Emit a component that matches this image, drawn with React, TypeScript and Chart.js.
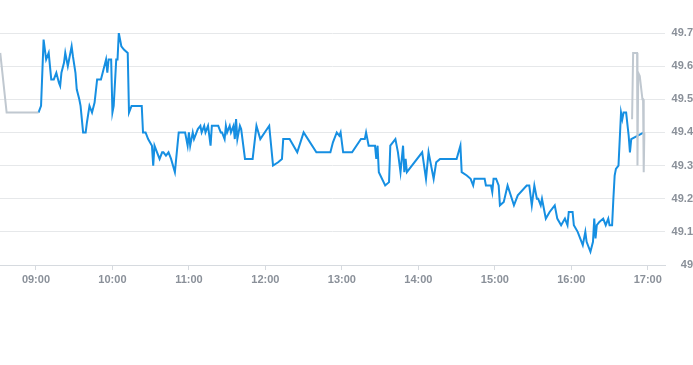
import React, { useEffect, useRef } from "react";
import { Chart, registerables } from "chart.js";

Chart.register(...registerables);

// Axis range and tick labels
const X_MIN = "08:31:48";
const X_MAX = "17:13:30";
const X_TICKS = ["09:00", "10:00", "11:00", "12:00", "13:00", "14:00", "15:00", "16:00", "17:00"];
const Y_TICKS = [49, 49.1, 49.2, 49.3, 49.4, 49.5, 49.6, 49.7];

// Main session (blue)
const SESSION_TIMES = [
  "09:02", "09:04", "09:06", "09:08", "09:09", "09:10", "09:12", "09:14", "09:16", "09:18",
  "09:19", "09:20", "09:22", "09:23", "09:25", "09:26", "09:28", "09:29", "09:31", "09:32",
  "09:34", "09:35", "09:37", "09:39", "09:40", "09:42", "09:44", "09:46", "09:48", "09:51",
  "09:53", "09:55", "09:56", "09:57", "09:59", "10:00", "10:01", "10:03", "10:04", "10:05",
  "10:07", "10:09", "10:12", "10:13", "10:15", "10:23", "10:24", "10:26", "10:28", "10:31",
  "10:32", "10:33", "10:35", "10:37", "10:39", "10:40", "10:42", "10:44", "10:46", "10:49",
  "10:52", "10:57", "10:59", "11:00", "11:01", "11:03", "11:04", "11:06", "11:07", "11:09",
  "11:10", "11:12", "11:13", "11:15", "11:17", "11:18", "11:23", "11:25", "11:26", "11:28",
  "11:29", "11:30", "11:32", "11:33", "11:35", "11:36", "11:37", "11:38", "11:40", "11:41",
  "11:44", "11:50", "11:53", "11:56", "12:03", "12:06", "12:10", "12:13", "12:14", "12:19",
  "12:25", "12:30", "12:40", "12:51", "12:53", "12:56", "12:58", "12:59", "13:01", "13:08",
  "13:15", "13:18", "13:19", "13:21", "13:26", "13:27", "13:28", "13:29", "13:34", "13:37",
  "13:38", "13:42", "13:44", "13:46", "13:48", "13:49", "13:50", "13:51", "14:03", "14:06",
  "14:08", "14:12", "14:14", "14:17", "14:30", "14:33", "14:34", "14:38", "14:41", "14:43",
  "14:44", "14:52", "14:53", "14:57", "14:58", "14:59", "15:01", "15:03", "15:04", "15:07",
  "15:10", "15:15", "15:18", "15:25", "15:27", "15:29", "15:31", "15:33", "15:34", "15:36",
  "15:37", "15:40", "15:43", "15:47", "15:49", "15:52", "15:55", "15:57", "15:58", "16:01",
  "16:02", "16:05", "16:09", "16:11", "16:12", "16:15", "16:17", "16:18", "16:19", "16:20",
  "16:22", "16:25", "16:27", "16:29", "16:30", "16:32", "16:33", "16:34", "16:35", "16:37",
  "16:39", "16:40", "16:41", "16:43", "16:45", "16:46", "16:47", "16:57",
];
const SESSION_VALUES = [
  49.46, 49.48, 49.68, 49.62, 49.63, 49.64, 49.56, 49.56, 49.58, 49.55,
  49.54, 49.58, 49.61, 49.64, 49.60, 49.62, 49.66, 49.63, 49.58, 49.53,
  49.50, 49.48, 49.40, 49.40, 49.43, 49.48, 49.46, 49.49, 49.56, 49.56,
  49.59, 49.62, 49.58, 49.62, 49.62, 49.46, 49.48, 49.62, 49.62, 49.70,
  49.66, 49.65, 49.64, 49.46, 49.48, 49.48, 49.40, 49.40, 49.38, 49.36,
  49.30, 49.36, 49.34, 49.32, 49.34, 49.34, 49.33, 49.34, 49.32, 49.28,
  49.40, 49.40, 49.36, 49.40, 49.36, 49.40, 49.38, 49.40, 49.41, 49.42,
  49.40, 49.42, 49.40, 49.42, 49.36, 49.42, 49.42, 49.40, 49.40, 49.38,
  49.42, 49.40, 49.42, 49.40, 49.42, 49.38, 49.44, 49.38, 49.42, 49.41,
  49.32, 49.32, 49.42, 49.38, 49.42, 49.30, 49.31, 49.32, 49.38, 49.38,
  49.34, 49.40, 49.34, 49.34, 49.37, 49.40, 49.39, 49.40, 49.34, 49.34,
  49.38, 49.38, 49.40, 49.36, 49.36, 49.32, 49.36, 49.28, 49.24, 49.25,
  49.36, 49.38, 49.34, 49.28, 49.36, 49.28, 49.32, 49.28, 49.34, 49.26,
  49.34, 49.26, 49.31, 49.32, 49.32, 49.36, 49.28, 49.27, 49.26, 49.24,
  49.26, 49.26, 49.24, 49.24, 49.22, 49.26, 49.26, 49.24, 49.18, 49.19,
  49.24, 49.18, 49.21, 49.24, 49.24, 49.18, 49.24, 49.20, 49.20, 49.18,
  49.20, 49.14, 49.16, 49.18, 49.14, 49.12, 49.14, 49.12, 49.16, 49.16,
  49.12, 49.10, 49.06, 49.10, 49.07, 49.04, 49.07, 49.14, 49.08, 49.12,
  49.13, 49.14, 49.12, 49.14, 49.12, 49.12, 49.20, 49.27, 49.29, 49.30,
  49.46, 49.44, 49.46, 49.46, 49.39, 49.34, 49.38, 49.40,
];

// Pre-market (grey)
const PRE_TIMES = ["08:32", "08:37", "09:02"];
const PRE_VALUES = [49.64, 49.46, 49.46];

// After-market (grey)
const POST_TIMES = [
  "16:47:40", "16:48:30", "16:51:36", "16:51:54", "16:52:30",
  "16:53:42", "16:55:48", "16:56:18", "16:56:48", "16:57:18",
];
const POST_VALUES = [49.44, 49.64, 49.64, 49.30, 49.58, 49.57, 49.50, 49.50, 49.28, 49.40];

const BLUE = "rgb(22, 143, 226)";
const GREY = "#c0c8d0";
const TEXT = "#8a9099";
const FONT = "'Liberation Sans', Arial, sans-serif";

const toMin = (s: string) => {
  const [h, m, sec] = s.split(":").map(Number);
  return h * 60 + m + (sec || 0) / 60;
};
const fmt = (v: number) => {
  const h = Math.floor(v / 60 + 1e-9);
  const m = Math.round(v - h * 60);
  return String(h).padStart(2, "0") + ":" + String(m).padStart(2, "0");
};
const points = (times: string[], values: number[]) =>
  times.map((t, i) => ({ x: toMin(t), y: values[i] }));

export default function App() {
  const ref = useRef<HTMLCanvasElement | null>(null);

  useEffect(() => {
    if (!ref.current) return;
    const chart = new Chart(ref.current, {
      type: "line",
      data: {
        datasets: [
          {
            data: points(POST_TIMES, POST_VALUES),
            borderColor: GREY,
            borderWidth: 2,
            pointRadius: 0,
            tension: 0,
          },
          {
            data: points(PRE_TIMES, PRE_VALUES),
            borderColor: GREY,
            borderWidth: 2,
            pointRadius: 0,
            tension: 0,
          },
          {
            data: points(SESSION_TIMES, SESSION_VALUES),
            borderColor: BLUE,
            borderWidth: 2,
            pointRadius: 0,
            tension: 0,
          },
        ],
      },
      options: {
        animation: false,
        responsive: false,
        events: [],
        layout: { padding: { top: 33, left: 0, right: 0, bottom: 0 } },
        plugins: { legend: { display: false }, tooltip: { enabled: false } },
        scales: {
          x: {
            type: "linear",
            min: toMin(X_MIN),
            max: toMin(X_MAX),
            afterBuildTicks: (s: any) => {
              s.ticks = X_TICKS.map((t) => ({ value: toMin(t) }));
            },
            afterFit: (s: any) => {
              s.height = 35;
            },
            grid: { drawOnChartArea: false, drawTicks: true, tickLength: 5, color: "#d6dadf" },
            border: { display: true, color: "#d6dadf" },
            ticks: {
              color: TEXT,
              padding: 3,
              maxRotation: 0,
              autoSkip: false,
              font: { family: FONT, size: 11, weight: "bold" },
              callback: (v: any) => fmt(Number(v)),
            },
          },
          y: {
            position: "right",
            min: 49,
            max: 49.7,
            afterBuildTicks: (s: any) => {
              s.ticks = Y_TICKS.map((v) => ({ value: v }));
            },
            afterFit: (s: any) => {
              s.width = 28;
            },
            grid: { drawTicks: false, color: "#e6e8ea" },
            border: { display: false },
            ticks: {
              color: TEXT,
              padding: 8,
              crossAlign: "far",
              font: { family: FONT, size: 11, weight: "bold" },
              callback: (v: any) => String(Math.round(Number(v) * 10) / 10),
            },
          },
        },
      },
    });
    return () => chart.destroy();
  }, []);

  return (
    <div style={{ position: "absolute", left: 0, top: 0, width: 693, height: 300 }}>
      <canvas ref={ref} width={693} height={300} style={{ display: "block" }} />
    </div>
  );
}
